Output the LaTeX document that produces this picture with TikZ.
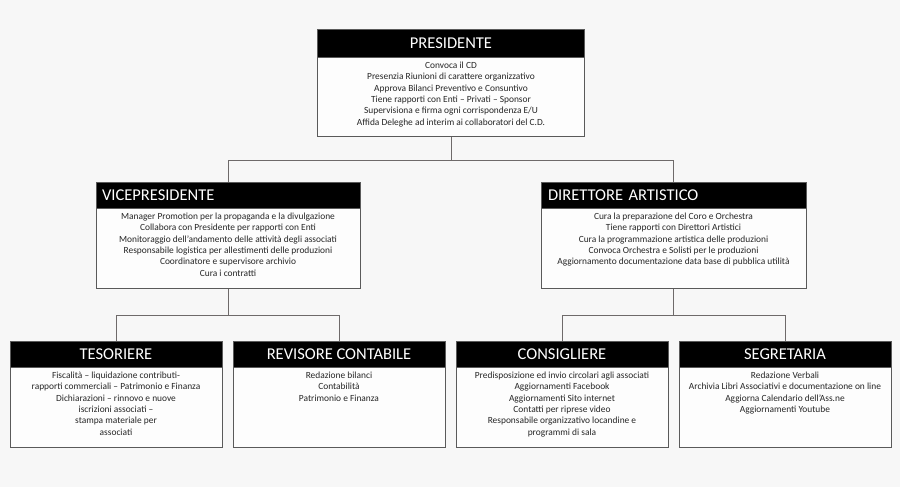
\documentclass[tikz,border=0pt]{standalone}
\usepackage{fontspec}
\setmainfont{Carlito}
\definecolor{bgc}{HTML}{F7F7F7}
\definecolor{bodyc}{HTML}{FDFDFD}
\definecolor{framec}{HTML}{5A5A5A}
\definecolor{linkc}{HTML}{6E6A6A}
\definecolor{txtc}{HTML}{262626}
\tikzset{
  hdr/.style={fill=black, draw=framec, line width=0.6pt, text=white, inner sep=0pt,
    font=\fontsize{16.5}{18}\selectfont},
  hdrl/.style={hdr, align=left},
  bodybox/.style={fill=bodyc, draw=framec, line width=0.8pt, inner sep=0pt, anchor=north},
  bodytxt/.style={anchor=north, align=center, inner xsep=0pt, inner ysep=4.6pt, text=txtc,
    font=\fontsize{9.4}{11.3}\selectfont},
  link/.style={draw=linkc, line width=0.8pt}
}
\begin{document}
\begin{tikzpicture}[x=1pt,y=-1pt]
\fill[bgc] (0,0) rectangle (900,487);
\useasboundingbox (0,0) rectangle (900,487);

% PRESIDENTE
\node[hdr, minimum width=267pt, minimum height=28pt] (presH) at (451,43) {PRESIDENTE};
\node[bodybox, minimum width=267pt, minimum height=79pt] (presB) at (presH.south) {};
\node[bodytxt] (presT) at (presB.north) {Convoca il CD\\Presenzia Riunioni di carattere organizzativo\\Approva Bilanci Preventivo e Consuntivo\\Tiene rapporti con Enti – Privati – Sponsor\\Supervisiona e firma ogni corrispondenza E/U\\Affida Deleghe ad interim ai collaboratori del C.D.};

% VICEPRESIDENTE
\node[hdrl, minimum width=264pt, minimum height=26pt, text width=252pt] (vpH) at (228,195) {VICEPRESIDENTE};
\node[bodybox, minimum width=264pt, minimum height=80pt] (vpB) at (vpH.south) {};
\node[bodytxt] (vpT) at (vpB.north) {Manager Promotion per la propaganda e la divulgazione\\Collabora con Presidente per rapporti con Enti\\Monitoraggio dell’andamento delle attività degli associati\\Responsabile logistica per allestimenti delle produzioni\\Coordinatore e supervisore archivio\\Cura i contratti};

% DIRETTORE ARTISTICO
\node[hdrl, minimum width=265pt, minimum height=26pt, text width=251pt] (daH) at (673.5,195) {DIRETTORE ARTISTICO};
\node[bodybox, minimum width=265pt, minimum height=80pt] (daB) at (daH.south) {};
\node[bodytxt] (daT) at (daB.north) {Cura la preparazione del Coro e Orchestra\\Tiene rapporti con Direttori Artistici\\Cura la programmazione artistica delle produzioni\\Convoca Orchestra e Solisti per le produzioni\\Aggiornamento documentazione data base di pubblica utilità};

% TESORIERE
\node[hdr, minimum width=212pt, minimum height=26pt] (tesH) at (116,354) {TESORIERE};
\node[bodybox, minimum width=212pt, minimum height=80pt] (tesB) at (tesH.south) {};
\node[bodytxt] (tesT) at (tesB.north) {Fiscalità – liquidazione contributi-\\rapporti commerciali – Patrimonio e Finanza\\Dichiarazioni – rinnovo e nuove\\iscrizioni associati –\\stampa materiale per\\associati};

% REVISORE CONTABILE
\node[hdr, minimum width=212pt, minimum height=26pt] (revH) at (339,354) {REVISORE CONTABILE};
\node[bodybox, minimum width=212pt, minimum height=80pt] (revB) at (revH.south) {};
\node[bodytxt] (revT) at (revB.north) {Redazione bilanci\\Contabilità\\Patrimonio e Finanza};

% CONSIGLIERE
\node[hdr, minimum width=212pt, minimum height=26pt] (conH) at (562,354) {CONSIGLIERE};
\node[bodybox, minimum width=212pt, minimum height=80pt] (conB) at (conH.south) {};
\node[bodytxt] (conT) at (conB.north) {Predisposizione ed invio circolari agli associati\\Aggiornamenti Facebook\\Aggiornamenti Sito internet\\Contatti per riprese video\\Responsabile organizzativo locandine e\\programmi di sala};

% SEGRETARIA
\node[hdr, minimum width=212pt, minimum height=26pt] (segH) at (785,354) {SEGRETARIA};
\node[bodybox, minimum width=212pt, minimum height=80pt] (segB) at (segH.south) {};
\node[bodytxt] (segT) at (segB.north) {Redazione Verbali\\Archivia Libri Associativi e documentazione on line\\Aggiorna Calendario dell’Ass.ne\\Aggiornamenti Youtube};

% connectors
\draw[link] (presB.south) -- ++(0,23) coordinate (j1) -| (vpH.north);
\draw[link] (j1) -| (daH.north);
\draw[link] (vpB.south) -- ++(0,26) coordinate (j2) -| (tesH.north);
\draw[link] (j2) -| (revH.north);
\draw[link] (daB.south) -- ++(0,26) coordinate (j3) -| (conH.north);
\draw[link] (j3) -| (segH.north);
\end{tikzpicture}
\end{document}
